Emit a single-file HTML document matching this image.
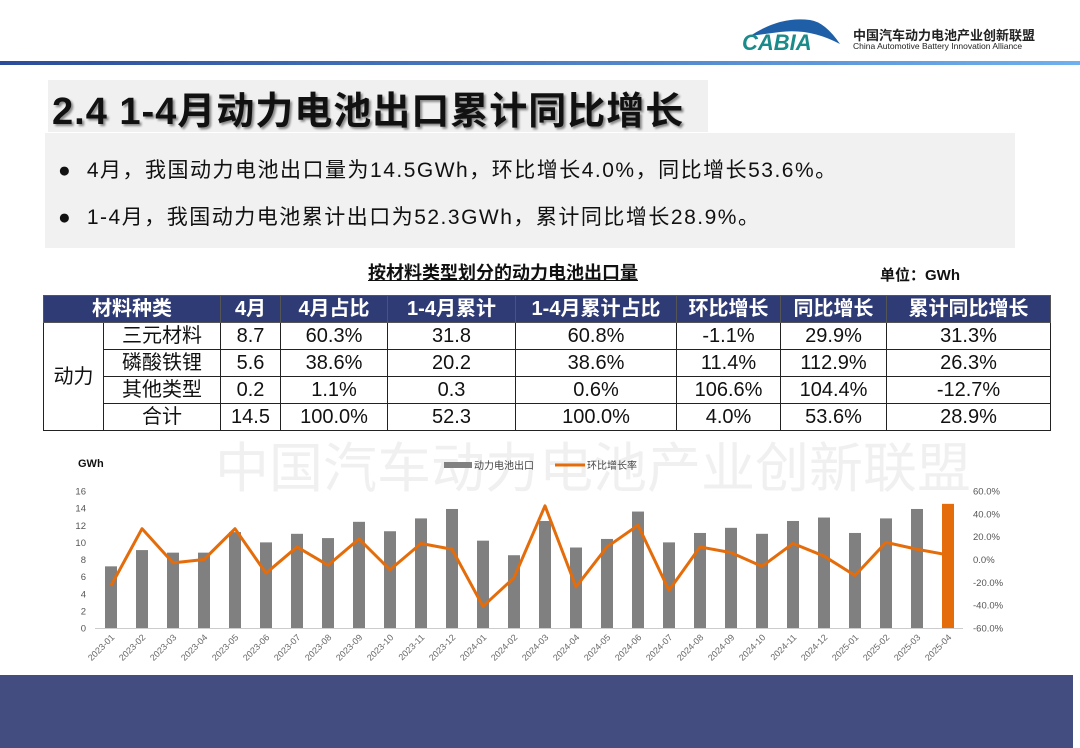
<!DOCTYPE html>
<html><head><meta charset="utf-8">
<style>
body{margin:0;width:1080px;height:748px;position:relative;overflow:hidden;background:#fff;font-family:"Liberation Sans","Noto Sans CJK SC",sans-serif;}
.abs{position:absolute;}
table{border-collapse:collapse;position:absolute;left:43px;top:295px;table-layout:fixed;font-size:20px;}
td{border:1.5px solid #222;text-align:center;padding:0;height:26px;line-height:26px;color:#111;}
tr.h td{background:#2f3b74;color:#fff;font-weight:bold;border-color:#555;}
</style></head><body>
<div class="abs" style="left:740px;top:14px;width:105px;height:40px;">
<svg width="105" height="40"><path d="M10 22 Q40 2 70 6 Q85 8 100 30 Q70 14 40 18 Z" fill="#1f5fa8"/>
<text x="2" y="36" font-size="22" font-style="italic" font-weight="bold" fill="#1a8a8a" font-family="Liberation Sans">CABIA</text></svg></div>
<div class="abs" style="left:853px;top:25px;font-size:13px;font-weight:bold;color:#222;">中国汽车动力电池产业创新联盟</div>
<div class="abs" style="left:853px;top:41px;font-size:8.5px;color:#222;">China Automotive Battery Innovation Alliance</div>
<div class="abs" style="left:0;top:61px;width:1080px;height:4px;background:linear-gradient(90deg,#2b4c9a,#6fb0ee);"></div>
<div class="abs" style="left:48px;top:80px;width:660px;height:52px;background:#f0f0f0;"></div>
<div class="abs" style="left:52px;top:80px;font-size:38px;font-weight:bold;color:#111;text-shadow:2px 2px 2px #888;letter-spacing:1px;">2.4 1-4月动力电池出口累计同比增长</div>
<div class="abs" style="left:45px;top:133px;width:970px;height:115px;background:#f1f1f1;"></div>
<div class="abs" style="left:58px;top:154px;font-size:21px;color:#111;letter-spacing:1.5px;">●&nbsp; 4月，我国动力电池出口量为14.5GWh，环比增长4.0%，同比增长53.6%。</div>
<div class="abs" style="left:58px;top:201px;font-size:21px;color:#111;letter-spacing:1.5px;">●&nbsp; 1-4月，我国动力电池累计出口为52.3GWh，累计同比增长28.9%。</div>
<div class="abs" style="left:368px;top:259px;font-size:18px;font-weight:bold;text-decoration:underline;color:#111;">按材料类型划分的动力电池出口量</div>
<div class="abs" style="left:880px;top:264px;font-size:15px;font-weight:bold;color:#111;">单位：GWh</div>
<table>
<colgroup><col style="width:60px"><col style="width:117px"><col style="width:60px"><col style="width:107px"><col style="width:128px"><col style="width:161px"><col style="width:104px"><col style="width:106px"><col style="width:164px"></colgroup>
<tr class="h"><td colspan="2">材料种类</td><td>4月</td><td>4月占比</td><td>1-4月累计</td><td>1-4月累计占比</td><td>环比增长</td><td>同比增长</td><td>累计同比增长</td></tr>
<tr><td rowspan="4">动力</td><td>三元材料</td><td>8.7</td><td>60.3%</td><td>31.8</td><td>60.8%</td><td>-1.1%</td><td>29.9%</td><td>31.3%</td></tr>
<tr><td>磷酸铁锂</td><td>5.6</td><td>38.6%</td><td>20.2</td><td>38.6%</td><td>11.4%</td><td>112.9%</td><td>26.3%</td></tr>
<tr><td>其他类型</td><td>0.2</td><td>1.1%</td><td>0.3</td><td>0.6%</td><td>106.6%</td><td>104.4%</td><td>-12.7%</td></tr>
<tr><td>合计</td><td>14.5</td><td>100.0%</td><td>52.3</td><td>100.0%</td><td>4.0%</td><td>53.6%</td><td>28.9%</td></tr>
</table>
<div class="abs" style="left:215px;top:424px;font-size:54px;color:#f0f0f0;white-space:nowrap;">中国汽车动力电池产业创新联盟</div>
<svg id="chart" class="abs" style="left:0;top:440px" width="1080" height="235"></svg>
<div class="abs" style="left:0;top:675px;width:1073px;height:73px;background:#434d7f;"></div>
<script>
const categories=["2023-01","2023-02","2023-03","2023-04","2023-05","2023-06","2023-07","2023-08","2023-09","2023-10","2023-11","2023-12","2024-01","2024-02","2024-03","2024-04","2024-05","2024-06","2024-07","2024-08","2024-09","2024-10","2024-11","2024-12","2025-01","2025-02","2025-03","2025-04"];
const exportValues=[7.2,9.1,8.8,8.8,11.2,10.0,11.0,10.5,12.4,11.3,12.8,13.9,10.2,8.5,12.5,9.4,10.4,13.6,10.0,11.1,11.7,11.0,12.5,12.9,11.1,12.8,13.9,14.5];
const momValues=[-23,27,-3,0,27,-12,11,-5,18,-9,14,9,-41,-16,47,-24,11,30,-27,11,6,-6,14,3,-14,15,9,4];
const leftTicks=[0,2,4,6,8,10,12,14,16];
const rightTicks=[-60,-40,-20,0,20,40,60];
const rightTickLabels=["-60.0%","-40.0%","-20.0%","0.0%","20.0%","40.0%","60.0%"];
const svg=document.getElementById('chart');const NS='http://www.w3.org/2000/svg';
const OY=440;
function mk(t,a,p){const e=document.createElementNS(NS,t);for(const k in a)e.setAttribute(k,a[k]);(p||svg).appendChild(e);return e;}
const x0=111,step=31,yTop=491-OY,yBot=628-OY;
const xS=i=>x0+i*step;
const yL=v=>yBot-(v/16)*(yBot-yTop);
const yR=v=>yBot-((v+60)/120)*(yBot-yTop);
let t=mk('text',{x:78,y:467-OY,'font-size':11,'font-weight':'bold',fill:'#111'});t.textContent='GWh';


leftTicks.forEach(v=>{const e=mk('text',{x:86,y:yL(v)+3.5,'font-size':9.5,fill:'#555','text-anchor':'end'});e.textContent=v;

});
rightTicks.forEach((v,i)=>{const e=mk('text',{x:973,y:yR(v)+3.5,'font-size':9.5,fill:'#555'});e.textContent=rightTickLabels[i];

});
const ax=mk('line',{x1:95,x2:963,y1:yBot+0.5,y2:yBot+0.5,stroke:'#ccc','stroke-width':1});


exportValues.forEach((v,i)=>{const last=i===exportValues.length-1;
const r=mk('rect',{x:xS(i)-6,y:yL(v),width:12,height:yBot-yL(v),fill:last?'#e46c0a':'#808080'});

});
const pts=momValues.map((v,i)=>xS(i)+','+yR(v)).join(' ');
const pl=mk('polyline',{points:pts,fill:'none',stroke:'#e46c0a','stroke-width':3,'stroke-linejoin':'round'});


categories.forEach((c,i)=>{const e=mk('text',{x:xS(i)+4,y:yBot+10,'font-size':9,fill:'#666','text-anchor':'end',transform:`rotate(-45 ${xS(i)+4} ${yBot+10})`});e.textContent=c;

});
const lg1=mk('rect',{x:444,y:462-OY,width:28,height:6,fill:'#808080'});


const lt1=mk('text',{x:474,y:469-OY,'font-size':10,fill:'#444'});lt1.textContent='动力电池出口';


const lg2=mk('line',{x1:555,x2:585,y1:465-OY,y2:465-OY,stroke:'#e46c0a','stroke-width':3});


const lt2=mk('text',{x:587,y:469-OY,'font-size':10,fill:'#444'});lt2.textContent='环比增长率';


</script>
</body></html>
